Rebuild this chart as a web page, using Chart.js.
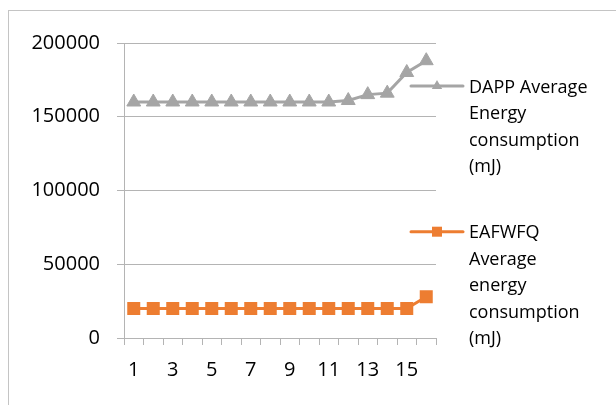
<!DOCTYPE html>
<html>
<head>
<meta charset="utf-8">
<script src="https://cdn.jsdelivr.net/npm/chart.js@4/dist/chart.umd.min.js"></script>
<style>
  html, body { margin: 0; padding: 0; background: #fff; }
  #wrap { position: relative; width: 616px; height: 405px; overflow: hidden; }
  #frame { position: absolute; left: 8px; top: 10px; width: 640px; height: 430px; border: 1px solid #c4c4c4; box-sizing: border-box; }
  canvas { position: absolute; left: 0; top: 0; }
</style>
</head>
<body>
<div id="wrap">
  <div id="frame"></div>
  <canvas id="c" width="616" height="405"></canvas>
</div>
<script>
// Round numbers 1..16
const categories = ['1','2','3','4','5','6','7','8','9','10','11','12','13','14','15','16'];

// Average energy consumption per round (mJ)
const dappEnergy = [160000,160000,160000,160000,160000,160000,160000,160000,160000,160000,160000,161000,165000,166000,180000,188000];
const eafwfqEnergy = [20000,20000,20000,20000,20000,20000,20000,20000,20000,20000,20000,20000,20000,20000,20000,28000];

const seriesNames = [
  'DAPP Average Energy consumption (mJ)',
  'EAFWFQ Average energy consumption (mJ)'
];

const yTicks = [0, 50000, 100000, 150000, 200000];

const FONT = '"Open Sans", "Liberation Sans", sans-serif';
const GRID = '#b4b4b4';
const GRAY = '#a5a5a5';
const ORANGE = '#ed7d31';

// Wrapped legend on the right side of the plot
const sideLegend = {
  id: 'sideLegend',
  afterDraw(chart, args, opts) {
    const ctx = chart.ctx;
    ctx.save();
    ctx.font = '18px ' + FONT;
    ctx.textBaseline = 'alphabetic';
    chart.data.datasets.forEach((ds, i) => {
      const words = ds.label.split(' ');
      const lines = [];
      let cur = '';
      words.forEach(w => {
        const t = cur ? cur + ' ' + w : w;
        if (cur && ctx.measureText(t).width > opts.wrapWidth) { lines.push(cur); cur = w; }
        else cur = t;
      });
      if (cur) lines.push(cur);
      const base = opts.baselines[i];
      ctx.fillStyle = '#000';
      lines.forEach((ln, k) => ctx.fillText(ln, opts.textX, base + k * opts.lineHeight));

      // sample line with a small marker
      const ly = base - 6.6;
      const cx = (opts.lineX0 + opts.lineX1) / 2;
      ctx.strokeStyle = ds.borderColor;
      ctx.lineWidth = 3;
      ctx.lineCap = 'round';
      ctx.beginPath();
      ctx.moveTo(opts.lineX0, ly);
      ctx.lineTo(opts.lineX1, ly);
      ctx.stroke();
      ctx.fillStyle = ds.backgroundColor;
      ctx.beginPath();
      if (ds.pointStyle === 'rect') {
        const s = opts.markerSize / 2;
        ctx.rect(cx - s, ly - s, 2 * s, 2 * s);
      } else {
        const r = opts.markerSize * 0.6;
        ctx.moveTo(cx, ly - r);
        ctx.lineTo(cx + 0.866 * r, ly + 0.5 * r);
        ctx.lineTo(cx - 0.866 * r, ly + 0.5 * r);
        ctx.closePath();
      }
      ctx.fill();
    });
    ctx.restore();
  }
};

new Chart(document.getElementById('c'), {
  type: 'line',
  data: {
    labels: categories,
    datasets: [
      {
        label: seriesNames[0],
        data: dappEnergy,
        borderColor: GRAY,
        backgroundColor: GRAY,
        borderWidth: 3,
        pointStyle: 'triangle',
        pointRadius: 8,
        pointBorderWidth: 1,
        tension: 0
      },
      {
        label: seriesNames[1],
        data: eafwfqEnergy,
        borderColor: ORANGE,
        backgroundColor: ORANGE,
        borderWidth: 3,
        pointStyle: 'rect',
        pointRadius: 9.2,
        pointBorderWidth: 0,
        tension: 0
      }
    ]
  },
  options: {
    responsive: false,
    animation: false,
    devicePixelRatio: 1,
    layout: { padding: { left: 0, top: 43, right: 180, bottom: 0 } },
    plugins: {
      legend: { display: false },
      tooltip: { enabled: false },
      sideLegend: {
        textX: 469,
        lineX0: 411,
        lineX1: 463,
        wrapWidth: 124,
        lineHeight: 26.5,
        markerSize: 10,
        baselines: [92.7, 238.3]
      }
    },
    scales: {
      x: {
        offset: true,
        grid: { display: true, drawOnChartArea: false, offset: true, tickLength: 7, color: GRID },
        border: { display: true, color: GRID, width: 1 },
        ticks: {
          autoSkip: false,
          maxRotation: 0,
          padding: 13,
          color: '#000',
          font: { family: FONT, size: 20 },
          callback: function (v, i) { return i % 2 === 0 ? this.getLabelForValue(v) : ''; }
        },
        afterFit(s) { s.height = 67; }
      },
      y: {
        min: yTicks[0],
        max: yTicks[yTicks.length - 1],
        afterBuildTicks(s) { s.ticks = yTicks.map(v => ({ value: v })); },
        grid: { color: GRID, tickLength: 7, lineWidth: 1 },
        border: { display: true, color: GRID, width: 1 },
        ticks: {
          padding: 17,
          color: '#000',
          font: { family: FONT, size: 20 },
          callback: v => String(v)
        },
        afterFit(s) { s.width = 124; }
      }
    }
  },
  plugins: [sideLegend]
});
</script>
</body>
</html>
